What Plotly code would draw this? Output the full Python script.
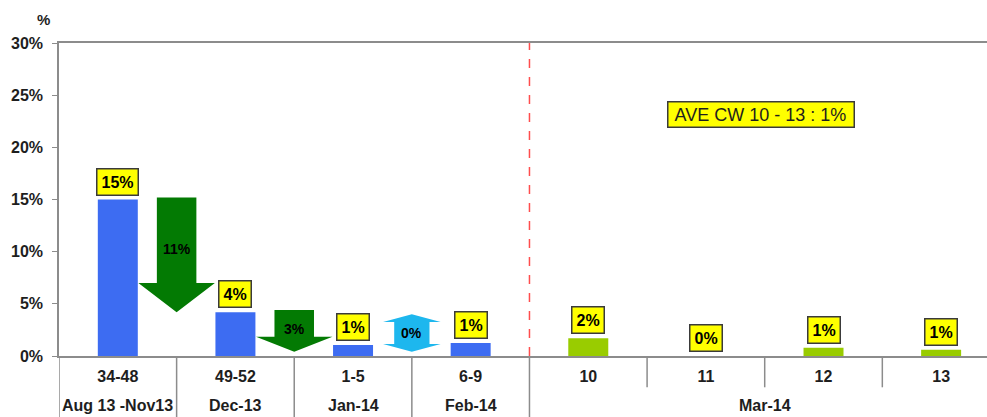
import plotly.graph_objects as go

# ---------------- data ----------------
weeks = ["34-48", "49-52", "1-5", "6-9", "10", "11", "12", "13"]
months = ["Aug 13 -Nov13", "Dec-13", "Jan-14", "Feb-14", "Mar-14"]
month_span = [1, 1, 1, 1, 4]          # number of week columns per month group
values = [15.0, 4.2, 1.05, 1.25, 1.7, 0.0, 0.8, 0.6]
bar_group = ["hist", "hist", "hist", "hist", "cur", "cur", "cur", "cur"]

# change arrows between consecutive periods
arrow_text = ["11%", "3%", "0%"]
arrow_from = [15.2, 4.4, 4.0]
arrow_to = [4.2, 0.4, 0.4]
arrow_kind = ["down", "down", "both"]

avg_text = "AVE CW 10 - 13 : 1%"
y_ticks = [0, 5, 10, 15, 20, 25, 30]

# ---------------- style ----------------
FONT = "Liberation Sans, Arial, sans-serif"
BLUE = "#3D6CF2"
LGREEN = "#99CC00"
DGREEN = "#037A03"
CYAN = "#1DB7EE"
GREY = "#8C8C8C"
TXT = "#1e1e1e"
colors = [BLUE if g == "hist" else LGREEN for g in bar_group]
x = list(range(len(weeks)))

fig = go.Figure()
fig.add_trace(go.Bar(x=x, y=values, marker=dict(color=colors, line=dict(width=0)),
                     width=0.34, hoverinfo="skip", showlegend=False))

shapes = []
annotations = []

# value labels
for xi, v in zip(x, values):
    annotations.append(dict(x=xi, y=v, xref="x", yref="y", text=f"<b>{round(v)}%</b>",
                            showarrow=False, yanchor="bottom", yshift=4,
                            font=dict(family=FONT, size=16, color="black"),
                            bgcolor="#FFFF00", bordercolor="#3a3a3a", borderwidth=1.5,
                            borderpad=4))

# arrows
for i, (t, a, b, k) in enumerate(zip(arrow_text, arrow_from, arrow_to, arrow_kind)):
    cx = i + 0.5
    if k == "down":
        w, hw = 0.168, 0.325
        hl = min(2.8, 0.36 * (a - b))
        p = (f"M {cx-w},{a} L {cx+w},{a} L {cx+w},{b+hl} L {cx+hw},{b+hl} L {cx},{b} "
             f"L {cx-hw},{b+hl} L {cx-w},{b+hl} Z")
        col = DGREEN
        ty = b + 0.55 * (a - b)
    else:
        w, hw = 0.15, 0.245
        hl = 0.75
        top, bot = a, b
        p = (f"M {cx},{top} L {cx+hw},{top-hl} L {cx+w},{top-hl} L {cx+w},{bot+hl} "
             f"L {cx+hw},{bot+hl} L {cx},{bot} L {cx-hw},{bot+hl} L {cx-w},{bot+hl} "
             f"L {cx-w},{top-hl} L {cx-hw},{top-hl} Z")
        col = CYAN
        ty = (a + b) / 2
    shapes.append(dict(type="path", path=p, xref="x", yref="y", fillcolor=col,
                       line=dict(width=0), layer="above"))
    annotations.append(dict(x=cx, y=ty, xref="x", yref="y", text=f"<b>{t}</b>",
                            showarrow=False, font=dict(family=FONT, size=14, color="black")))

# red dashed divider between history and current month
shapes.append(dict(type="line", x0=3.5, x1=3.5, y0=0, y1=30, xref="x", yref="y",
                   line=dict(color="#FF4D4D", width=1.5, dash="dash")))

# category separators (week row) and group dividers (month row)
bounds = []
acc = 0
for s in month_span:
    acc += s
    bounds.append(acc - 0.5)
for i in range(len(weeks) - 1):
    b = i + 0.5
    full = b in bounds
    shapes.append(dict(type="line", x0=b, x1=b, y0=0, y1=-0.25 if full else -0.1,
                       xref="x", yref="paper", line=dict(color=GREY, width=1.5)))
shapes.append(dict(type="line", x0=-0.5, x1=-0.5, y0=0, y1=-0.25, xref="x", yref="paper",
                   line=dict(color=GREY, width=1.5)))

# month row labels
start = 0
for m, s in zip(months, month_span):
    cxm = start + (s - 1) / 2
    annotations.append(dict(x=cxm, y=-0.157, xref="x", yref="paper", text=f"<b>{m}</b>",
                            showarrow=False, yanchor="middle",
                            font=dict(family=FONT, size=16, color=TXT)))
    start += s

# average box
annotations.append(dict(x=5.465, y=23.15, xref="x", yref="y", text=f" {avg_text} ",
                        showarrow=False,
                        font=dict(family=FONT, size=18, color=TXT),
                        bgcolor="#FFFF00", bordercolor="#3a3a3a", borderwidth=1.5,
                        borderpad=2))

# % unit label
annotations.append(dict(x=0, y=1, xref="paper", yref="paper", text="<b>%</b>",
                        showarrow=False, xshift=-16, yshift=24, xanchor="center",
                        yanchor="middle",
                        font=dict(family=FONT, size=15, color=TXT)))

fig.update_layout(
    width=987, height=417,
    margin=dict(l=59, r=0, t=43, b=61),
    plot_bgcolor="white", paper_bgcolor="white",
    shapes=shapes, annotations=annotations,
    xaxis=dict(range=[-0.5, 7.39], tickvals=x, ticktext=[f"<b>{w}</b>" for w in weeks],
               showgrid=False, zeroline=False, showline=True, linecolor=GREY, linewidth=1.5,
               mirror=True, ticks="", ticklabelstandoff=5,
               tickfont=dict(family=FONT, size=16, color=TXT)),
    yaxis=dict(range=[0, 30], tickvals=y_ticks, ticktext=[f"<b>{v}%</b>" for v in y_ticks],
               showgrid=False, zeroline=False, showline=True, linecolor=GREY, linewidth=1.5,
               ticks="outside", ticklen=5, tickcolor=GREY, ticklabelstandoff=6,
               tickfont=dict(family=FONT, size=16, color=TXT)),
)

fig.write_html("out.html")
